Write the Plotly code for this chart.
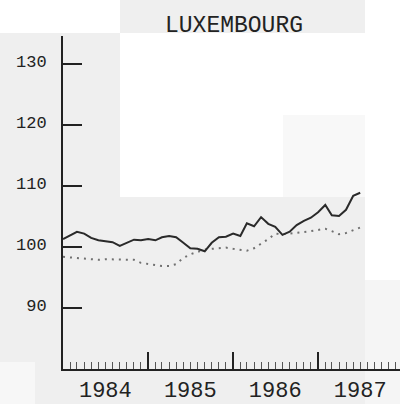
import pandas as pd
import plotly.graph_objects as go

# Monthly observations, Jan 1984 - Jul 1987
months = pd.date_range("1984-01-01", periods=43, freq="MS")

solid_series = [101.3, 101.9, 102.5, 102.2, 101.5, 101.1, 101.0, 100.8, 100.2, 100.7,
                101.2, 101.1, 101.3, 101.1, 101.6, 101.8, 101.6, 100.7, 99.8, 99.7,
                99.3, 100.7, 101.6, 101.7, 102.2, 101.8, 103.9, 103.4, 104.9, 103.8,
                103.3, 102.0, 102.5, 103.6, 104.3, 104.8, 105.7, 106.9, 105.2, 105.1,
                106.1, 108.4, 108.9]

dotted_series = [98.4, 98.3, 98.1, 98.0, 97.9, 97.9, 98.0, 98.0, 98.0, 97.9,
                 97.9, 97.4, 97.2, 97.0, 96.9, 96.9, 97.2, 98.2, 98.8, 99.2,
                 99.6, 99.7, 99.8, 99.9, 99.7, 99.5, 99.4, 99.8, 100.5, 101.3,
                 102.2, 102.1, 102.2, 102.3, 102.4, 102.6, 102.8, 103.0, 102.6, 102.1,
                 102.3, 102.8, 103.2]

year_label_dates = ["1984-07-01", "1985-07-01", "1986-07-01", "1987-07-01"]
year_labels = ["1984", "1985", "1986", "1987"]
y_ticks = [90, 100, 110, 120, 130]

W, H = 400, 404
L, R, T, B = 63, 0, 36, 35
pw, ph = W - L - R, H - T - B


def px(x):
    return (x - L) / pw


def py(y):
    return (H - B - y) / ph


fig = go.Figure()
fig.add_trace(go.Scatter(x=months, y=dotted_series, mode="lines",
                         line=dict(color="#707070", width=2, dash="2px,5px"),
                         showlegend=False))
fig.add_trace(go.Scatter(x=months, y=solid_series, mode="lines",
                         line=dict(color="#2a2a2a", width=2),
                         showlegend=False))
# invisible trace to carry the label axis
fig.add_trace(go.Scatter(x=[months[0]], y=[solid_series[0]], xaxis="x2",
                         mode="markers", marker=dict(opacity=0), showlegend=False,
                         hoverinfo="skip"))

# scanned background patches
patches = [
    (0, 0, 120, 33, "#ffffff"),
    (365, 0, 400, 280, "#ffffff"),
    (365, 280, 400, 404, "#f5f5f5"),
    (120, 33, 283, 197, "#ffffff"),
    (283, 33, 365, 115, "#ffffff"),
    (283, 115, 365, 197, "#f8f8f8"),
    (0, 362, 35, 404, "#f7f7f7"),
]
shapes = []
for x0, y0, x1, y1, c in patches:
    shapes.append(dict(type="rect", xref="paper", yref="paper",
                       x0=px(x0), x1=px(x1), y0=py(y1), y1=py(y0),
                       fillcolor=c, line=dict(width=0), layer="below"))

xr = ["1984-01-01", "1987-12-19"]
fig.update_layout(
    width=W, height=H,
    margin=dict(l=L, r=R, t=T, b=B, autoexpand=False),
    paper_bgcolor="#efefef",
    plot_bgcolor="rgba(0,0,0,0)",
    shapes=shapes,
    title=dict(text="LUXEMBOURG", x=234 / W, xanchor="center", y=1 - 24 / H,
               yanchor="middle",
               font=dict(family="Liberation Mono", size=23, color="#222222")),
    xaxis=dict(type="date", range=xr, showgrid=False, zeroline=False,
               showline=True, linecolor="#222222", linewidth=2, automargin=False,
               tick0="1984-01-01", dtick="M12", ticks="inside", ticklen=17,
               tickwidth=2, tickcolor="#222222", showticklabels=False,
               minor=dict(dtick="M1", ticks="inside", ticklen=7, tickwidth=1,
                          tickcolor="#555555", showgrid=False)),
    xaxis2=dict(type="date", range=xr, overlaying="x", anchor="y", side="bottom",
                showgrid=False, zeroline=False, showline=False, automargin=False,
                tickmode="array", tickvals=year_label_dates, ticktext=year_labels,
                ticks="", ticklabelstandoff=5,
                tickfont=dict(family="Liberation Mono", size=22, color="#222222")),
    yaxis=dict(range=[80, 134.6], showgrid=False, zeroline=False, automargin=False,
               showline=True, linecolor="#222222", linewidth=2,
               tickmode="array", tickvals=y_ticks, ticks="inside", ticklen=19,
               tickwidth=2, tickcolor="#222222", ticklabelstandoff=11,
               ticklabelshift=-3,
               tickfont=dict(family="Liberation Mono", size=17, color="#222222")),
)

fig.write_html("out.html", config={"displayModeBar": False},
               post_script="document.body.style.margin='0';")
